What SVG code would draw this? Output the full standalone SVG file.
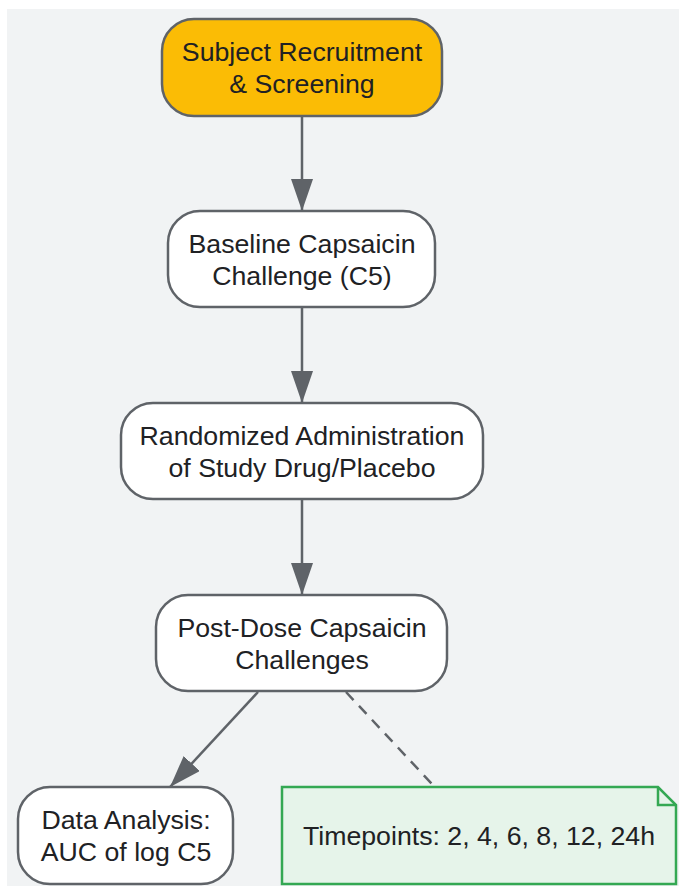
<svg xmlns="http://www.w3.org/2000/svg" width="679" height="886" viewBox="0 0 679 886">
<defs>
<style>
.node rect{fill:#ffffff;stroke:#5f6368;stroke-width:2.5}
.node text,.note text{font-family:"Liberation Sans",Arial,sans-serif;font-size:26.7px;fill:#202124;text-anchor:middle}
.edge{stroke:#5f6368;stroke-width:2.5;fill:none}
.dash{stroke-dasharray:11,8}
</style>
<marker id="arr" viewBox="0 0 10 10" refX="10" refY="5" markerWidth="12.8" markerHeight="8.8" markerUnits="strokeWidth" orient="auto" preserveAspectRatio="none">
<path d="M0,0 L10,5 L0,10 z" fill="#5f6368"/>
</marker>
</defs>
<rect x="7" y="9" width="672" height="877" fill="#f1f3f4"/>
<g id="connectors">
<line class="edge" x1="302" y1="116" x2="302" y2="211" marker-end="url(#arr)"/>
<line class="edge" x1="302" y1="307" x2="302" y2="403" marker-end="url(#arr)"/>
<line class="edge" x1="302" y1="499" x2="302" y2="595" marker-end="url(#arr)"/>
<line class="edge" x1="258" y1="692" x2="170" y2="787" marker-end="url(#arr)"/>
<line class="edge dash" x1="346" y1="692" x2="432" y2="784"/>
</g>
<g id="n1" class="node">
<rect x="162" y="19" width="280" height="97" rx="32" style="fill:#fbbc05"/>
<text x="302" y="61">Subject Recruitment</text>
<text x="302" y="93">&amp; Screening</text>
</g>
<g id="n2" class="node">
<rect x="168" y="211" width="267" height="96" rx="32"/>
<text x="302" y="253">Baseline Capsaicin</text>
<text x="302" y="285">Challenge (C5)</text>
</g>
<g id="n3" class="node">
<rect x="121" y="403" width="362" height="96" rx="32"/>
<text x="302" y="445">Randomized Administration</text>
<text x="302" y="477">of Study Drug/Placebo</text>
</g>
<g id="n4" class="node">
<rect x="156" y="595" width="291" height="96" rx="32"/>
<text x="302" y="637">Post-Dose Capsaicin</text>
<text x="302" y="669">Challenges</text>
</g>
<g id="n5" class="node">
<rect x="18" y="787" width="215" height="97" rx="32"/>
<text x="126" y="829">Data Analysis:</text>
<text x="126" y="861">AUC of log C5</text>
</g>
<g id="note" class="note">
<path d="M282,787 H658 L676,805 V884 H282 Z" fill="#e6f4ea" stroke="#34a853" stroke-width="2.5"/>
<path d="M658,787 V805 H676" fill="none" stroke="#34a853" stroke-width="2.5"/>
<text x="479" y="845">Timepoints: 2, 4, 6, 8, 12, 24h</text>
</g>
</svg>
